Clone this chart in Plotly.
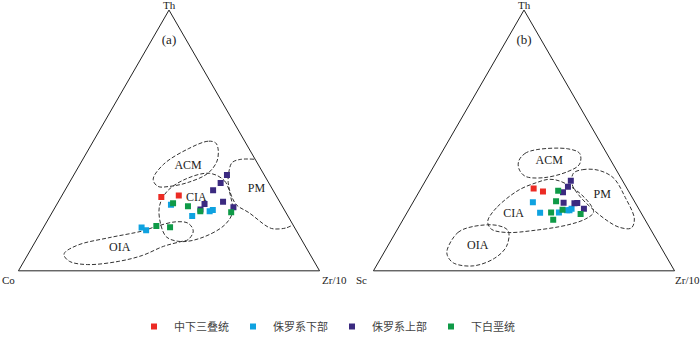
import plotly.graph_objects as go

# ---------------- data (ternary %, a=Th, b=Co/Sc, c=Zr/10) ----------------
series_names = ["中下三叠统", "侏罗系下部", "侏罗系上部", "下白垩统"]
series_colors = ["#ec2b24", "#0fa2e0", "#3b2a80", "#0f9a47"]

# panel (a): Th - Co - Zr/10
a_red_th = [28.3, 28.9]
a_red_co = [38.4, 32.3]
a_red_zr = [33.3, 38.8]
a_cyan_th = [25.3, 21.0, 22.8, 23.3, 16.6, 15.6]
a_cyan_co = [36.7, 31.8, 25.1, 23.8, 50.8, 49.8]
a_cyan_zr = [38.0, 47.2, 52.1, 52.9, 32.6, 34.6]
a_purple_th = [36.7, 33.7, 30.9, 25.6, 23.5, 26.5, 24.4]
a_purple_co = [12.4, 16.0, 19.9, 25.4, 27.8, 18.8, 16.4]
a_purple_zr = [50.9, 50.3, 49.2, 49.0, 48.7, 54.7, 59.2]
a_green_th = [25.9, 24.8, 22.8, 22.5, 17.2, 16.7]
a_green_co = [35.7, 31.3, 28.2, 18.1, 45.6, 41.3]
a_green_zr = [38.4, 43.9, 49.0, 59.4, 37.2, 42.0]

# panel (b): Th - Sc - Zr/10
b_red_th = [31.6, 30.4]
b_red_sc = [31.0, 28.5]
b_red_zr = [37.4, 41.1]
b_cyan_th = [26.3, 22.3, 22.4, 23.2, 23.2, 23.8]
b_cyan_sc = [33.9, 33.5, 27.2, 24.1, 23.3, 22.3]
b_cyan_zr = [39.8, 44.2, 50.4, 52.7, 53.5, 53.9]
b_purple_th = [34.5, 32.2, 30.1, 26.1, 25.9, 26.0, 23.8]
b_purple_sc = [17.2, 19.3, 22.0, 23.8, 20.3, 19.3, 18.2]
b_purple_zr = [48.3, 48.5, 47.9, 50.1, 53.8, 54.7, 58.0]
b_green_th = [30.7, 26.7, 22.4, 19.6, 23.4, 21.8]
b_green_sc = [23.3, 26.0, 29.8, 30.5, 25.5, 20.3]
b_green_zr = [46.0, 47.3, 47.8, 49.9, 51.1, 57.9]

# tectonic-setting fields, panel (a)
acm_a_th = [49.1, 49.7, 46.8, 40.9, 35.1, 32.4, 32.4, 33.9, 37.4, 42.1, 46.8, 49.1]
acm_a_co = [10.0, 12.2, 20.2, 31.3, 37.7, 37.5, 33.5, 26.7, 18.4, 13.0, 10.3, 10.0]
acm_a_zr = [40.9, 38.1, 33.0, 27.8, 27.2, 30.1, 34.1, 39.4, 44.2, 44.9, 42.9, 40.9]
cia_a_th = [37.4, 34.5, 28.1, 22.3, 17.6, 12.9, 11.2, 12.9, 17.6, 24.6, 30.4, 35.1, 37.4]
cia_a_co = [17.9, 14.3, 15.4, 17.8, 22.7, 32.2, 40.1, 44.3, 43.9, 40.9, 35.5, 27.1, 17.9]
cia_a_zr = [44.7, 51.2, 56.5, 59.9, 59.7, 54.9, 48.7, 42.8, 38.5, 34.5, 34.1, 37.8, 44.7]
oia_a_th = [7.1, 10.0, 12.7, 15.3, 17.0, 18.8, 18.2, 15.3, 12.0, 11.2, 9.4, 5.9, 3.6, 2.4, 3.6, 5.9, 7.1]
oia_a_co = [81.0, 75.0, 63.6, 51.1, 45.8, 38.3, 34.5, 34.3, 37.6, 40.5, 47.1, 55.9, 65.1, 75.8, 81.2, 81.9, 81.0]
oia_a_zr = [11.9, 15.0, 23.7, 33.6, 37.2, 42.9, 47.3, 50.4, 50.4, 48.3, 43.5, 38.2, 31.3, 21.8, 15.2, 12.2, 11.9]
pm_a_th = [42.8, 42.7, 41.5, 38.6, 33.9, 28.7, 25.2, 22.3, 17.0, 16.1, 16.4, 17.5]
pm_a_co = [0.3, 5.1, 8.3, 10.7, 13.4, 14.9, 14.9, 12.3, 8.9, 7.3, 3.1, 0.3]
pm_a_zr = [56.9, 52.2, 50.2, 50.7, 52.7, 56.4, 59.9, 65.4, 74.1, 76.6, 80.5, 82.2]

# tectonic-setting fields, panel (b)
acm_b_th = [42.1, 45.0, 46.5, 46.8, 45.0, 40.9, 38.0, 35.7, 36.3, 39.2, 42.1]
acm_b_sc = [30.7, 27.2, 22.4, 12.1, 9.0, 11.1, 16.6, 25.8, 31.5, 32.1, 30.7]
acm_b_zr = [27.2, 27.8, 31.1, 41.1, 46.0, 48.0, 45.4, 38.5, 32.2, 28.7, 27.2]
pm_b_th = [37.4, 38.8, 38.6, 35.7, 28.1, 19.9, 16.4, 16.7, 19.3, 24.0, 28.7, 33.3, 37.4]
pm_b_sc = [14.9, 11.1, 6.1, 2.5, 2.3, 3.4, 6.2, 10.0, 12.8, 15.5, 17.2, 17.4, 14.9]
pm_b_zr = [47.7, 50.1, 55.3, 61.8, 69.6, 76.7, 77.4, 73.3, 67.9, 60.5, 54.1, 49.3, 47.7]
cia_b_th = [19.9, 24.6, 31.0, 33.9, 35.1, 34.2, 29.8, 24.6, 22.3, 19.9, 17.6, 15.5, 14.7, 15.9, 18.2, 19.9]
cia_b_sc = [51.9, 46.5, 36.2, 28.7, 24.1, 20.5, 16.6, 15.2, 15.8, 19.6, 26.7, 38.9, 48.4, 52.8, 52.9, 51.9]
cia_b_zr = [28.2, 28.9, 32.8, 37.4, 40.8, 45.3, 53.6, 60.2, 61.9, 60.5, 55.7, 45.6, 36.9, 31.3, 28.9, 28.2]
oia_b_th = [8.3, 14.7, 17.0, 17.4, 15.3, 9.4, 4.8, 1.9, 3.0, 5.9, 8.3]
oia_b_sc = [71.3, 64.6, 58.4, 50.1, 47.6, 51.1, 57.4, 65.9, 71.9, 72.5, 71.3]
oia_b_zr = [20.4, 20.7, 24.6, 32.5, 37.1, 39.5, 37.8, 32.2, 25.1, 21.6, 20.4]

# field labels
lab_names = ["ACM", "CIA", "PM", "OIA"]
lab_a_th = [40.3, 28.1, 31.5, 8.9]
lab_a_co = [23.5, 26.9, 5.2, 61.9]
lab_a_zr = [36.2, 45.0, 63.3, 29.2]
lab_b_th = [42.3, 21.7, 29.0, 9.4]
lab_b_sc = [20.5, 42.6, 9.5, 60.7]
lab_b_zr = [37.2, 35.7, 61.5, 29.9]

panel_tags = ["(a)", "(b)"]
tag_th = [88.2]
tag_lo = [5.9]
tag_zr = [5.9]

apex_label = "Th"
left_labels = ["Co", "Sc"]
right_label = "Zr/10"

# ---------------- figure ----------------
SERIF = "Liberation Serif"
CJK = "Noto Sans CJK SC"
W, H = 700, 341
fig = go.Figure()

dash_line = dict(color="#333333", width=1, dash="4px,2px", shape="spline", smoothing=1)

fields = [
    ("ternary", acm_a_th, acm_a_co, acm_a_zr),
    ("ternary", cia_a_th, cia_a_co, cia_a_zr),
    ("ternary", oia_a_th, oia_a_co, oia_a_zr),
    ("ternary", pm_a_th, pm_a_co, pm_a_zr),
    ("ternary2", acm_b_th, acm_b_sc, acm_b_zr),
    ("ternary2", pm_b_th, pm_b_sc, pm_b_zr),
    ("ternary2", cia_b_th, cia_b_sc, cia_b_zr),
    ("ternary2", oia_b_th, oia_b_sc, oia_b_zr),
]
for sub, ta, tb, tc in fields:
    fig.add_trace(go.Scatterternary(a=ta, b=tb, c=tc, mode="lines", line=dash_line,
                                    subplot=sub, showlegend=False, hoverinfo="skip"))

panel_a = [(a_red_th, a_red_co, a_red_zr), (a_cyan_th, a_cyan_co, a_cyan_zr),
           (a_purple_th, a_purple_co, a_purple_zr), (a_green_th, a_green_co, a_green_zr)]
panel_b = [(b_red_th, b_red_sc, b_red_zr), (b_cyan_th, b_cyan_sc, b_cyan_zr),
           (b_purple_th, b_purple_sc, b_purple_zr), (b_green_th, b_green_sc, b_green_zr)]

for i, name in enumerate(series_names):
    ta, tb, tc = panel_a[i]
    fig.add_trace(go.Scatterternary(a=ta, b=tb, c=tc, mode="markers", name=name,
                                    legendgroup=name, subplot="ternary",
                                    marker=dict(symbol="square", size=6, color=series_colors[i],
                                                line=dict(width=0))))
    ta, tb, tc = panel_b[i]
    fig.add_trace(go.Scatterternary(a=ta, b=tb, c=tc, mode="markers", name=name,
                                    legendgroup=name, subplot="ternary2", showlegend=False,
                                    marker=dict(symbol="square", size=6, color=series_colors[i],
                                                line=dict(width=0))))

fig.add_trace(go.Scatterternary(a=lab_a_th, b=lab_a_co, c=lab_a_zr, mode="text", text=lab_names,
                                textfont=dict(family=SERIF, size=12, color="#222222"),
                                subplot="ternary", showlegend=False, hoverinfo="skip"))
fig.add_trace(go.Scatterternary(a=lab_b_th, b=lab_b_sc, c=lab_b_zr, mode="text", text=lab_names,
                                textfont=dict(family=SERIF, size=12, color="#222222"),
                                subplot="ternary2", showlegend=False, hoverinfo="skip"))
fig.add_trace(go.Scatterternary(a=tag_th, b=tag_lo, c=tag_zr, mode="text", text=[panel_tags[0]],
                                textfont=dict(family=SERIF, size=13, color="#222222"),
                                subplot="ternary", showlegend=False, hoverinfo="skip"))
fig.add_trace(go.Scatterternary(a=tag_th, b=tag_lo, c=tag_zr, mode="text", text=[panel_tags[1]],
                                textfont=dict(family=SERIF, size=13, color="#222222"),
                                subplot="ternary2", showlegend=False, hoverinfo="skip"))

ax = dict(title=dict(text=""), showgrid=False, showticklabels=False, ticks="",
          showline=True, linecolor="#222222", linewidth=1, min=0)

# corner labels as annotations
lab_font = dict(family=SERIF, size=11, color="#222222")
corner_ann = []
for xp, yp, txt, anc in [(169, 6, apex_label, "center"), (524, 6, apex_label, "center"),
                         (0, 306, left_labels[0], "left"), (334, 306, right_label, "center"),
                         (361, 306, left_labels[1], "center"), (687, 306, right_label, "center")]:
    corner_ann.append(dict(x=xp / W, y=1 - yp / H, xref="paper", yref="paper", text=txt,
                           showarrow=False, xanchor=anc, yanchor="middle", font=lab_font))

fig.update_layout(
    width=W, height=H,
    margin=dict(l=0, r=0, t=0, b=0),
    paper_bgcolor="white",
    showlegend=True,
    annotations=corner_ann,
    ternary=dict(domain=dict(x=[4 / W, 334 / W], y=[1 - 296 / H, 1 - 11 / H]),
                 sum=100, bgcolor="white", aaxis=ax, baxis=ax, caxis=ax),
    ternary2=dict(domain=dict(x=[359 / W, 689 / W], y=[1 - 296 / H, 1 - 11 / H]),
                  sum=100, bgcolor="white", aaxis=ax, baxis=ax, caxis=ax),
    legend=dict(orientation="h", x=134 / W, y=0, xanchor="left", yanchor="bottom",
                xref="paper", yref="container",
                font=dict(family=CJK, size=11, color="#444444"),
                entrywidth=54, entrywidthmode="pixels", itemwidth=30,
                bgcolor="rgba(0,0,0,0)"),
)

# remove the default page margin so the 700x341 figure fills the window exactly
fig.write_html("out.html", config={"displayModeBar": False},
               post_script="document.body.style.margin='0';document.body.style.overflow='hidden';")
